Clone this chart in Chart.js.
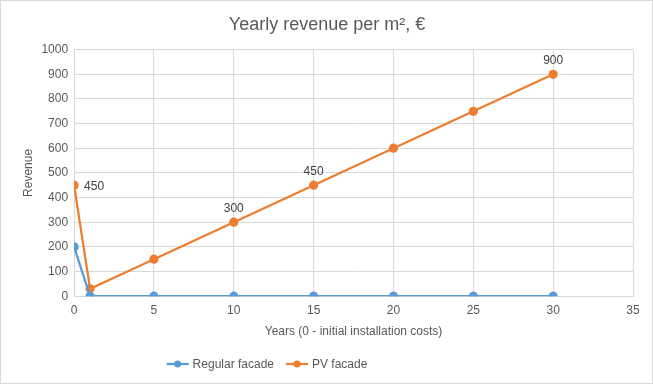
<!DOCTYPE html>
<html>
<head>
<meta charset="utf-8">
<script src="https://cdn.jsdelivr.net/npm/chart.js@4"></script>
<style>
  html, body { margin: 0; padding: 0; background: #fff; }
  #wrap { position: relative; width: 651px; height: 382px; border: 1px solid #d9d9d9; }
</style>
</head>
<body>
<div id="wrap"><canvas id="chart"></canvas></div>
<script>
// Years on the x axis
const years = [0, 1, 5, 10, 15, 20, 25, 30];
const regularFacade = [200, 0, 0, 0, 0, 0, 0, 0];
const pvFacade = [450, 30, 150, 300, 450, 600, 750, 900];
// which PV points carry a value label, and where
const pvLabels = [
  {index: 0, pos: 'right'},
  {index: 3, pos: 'top'},
  {index: 4, pos: 'top'},
  {index: 7, pos: 'top'}
];

const FONT = "'Liberation Sans', 'DejaVu Sans', sans-serif";
const GREY = '#595959';
const BLUE = '#5b9bd5';
const ORANGE = '#ed7d31';

const toPoints = vals => years.map((x, i) => ({x: x, y: vals[i]}));

// draws the few value labels on the PV series
const pointLabels = {
  id: 'pointLabels',
  afterDatasetsDraw(chart) {
    const ctx = chart.ctx;
    const meta = chart.getDatasetMeta(1);
    ctx.save();
    ctx.font = '12px ' + FONT;
    ctx.fillStyle = '#404040';
    pvLabels.forEach(l => {
      const el = meta.data[l.index];
      const txt = String(pvFacade[l.index]);
      if (l.pos === 'right') {
        ctx.textAlign = 'left';
        ctx.textBaseline = 'middle';
        ctx.fillText(txt, el.x + 10, el.y + 1);
      } else {
        ctx.textAlign = 'center';
        ctx.textBaseline = 'bottom';
        ctx.fillText(txt, el.x, el.y - 8);
      }
    });
    ctx.restore();
  }
};

// Excel-like legend (line with marker), a bit left of centre as in the original
const excelLegend = {
  id: 'excelLegend',
  afterDraw(chart) {
    const ctx = chart.ctx;
    const y = chart.height - 19;
    ctx.save();
    ctx.font = '12px ' + FONT;
    ctx.textBaseline = 'middle';
    ctx.textAlign = 'left';
    const items = chart.data.datasets.map(ds => ({
      text: ds.label,
      color: ds.borderColor,
      w: 22 + 4 + ctx.measureText(ds.label).width
    }));
    const gap = 12;
    const total = items.reduce((s, it) => s + it.w, 0) + gap * (items.length - 1);
    let x = 266 - total / 2;
    items.forEach(it => {
      ctx.strokeStyle = it.color;
      ctx.fillStyle = it.color;
      ctx.lineWidth = 2.25;
      ctx.beginPath();
      ctx.moveTo(x, y);
      ctx.lineTo(x + 22, y);
      ctx.stroke();
      ctx.beginPath();
      ctx.arc(x + 11, y, 3.5, 0, Math.PI * 2);
      ctx.fill();
      ctx.fillStyle = GREY;
      ctx.fillText(it.text, x + 26, y + 1);
      x += it.w + gap;
    });
    ctx.restore();
  }
};

new Chart(document.getElementById('chart'), {
  type: 'scatter',
  data: {
    datasets: [
      {
        label: 'Regular facade',
        data: toPoints(regularFacade),
        showLine: true,
        borderColor: BLUE,
        backgroundColor: BLUE,
        borderWidth: 2.25,
        pointRadius: 3.5,
        pointHoverRadius: 3.5
      },
      {
        label: 'PV facade',
        data: toPoints(pvFacade),
        showLine: true,
        borderColor: ORANGE,
        backgroundColor: ORANGE,
        borderWidth: 2.25,
        pointRadius: 3.5,
        pointHoverRadius: 3.5
      }
    ]
  },
  plugins: [pointLabels, excelLegend],
  options: {
    responsive: true,
    maintainAspectRatio: false,
    animation: false,
    devicePixelRatio: 1,
    layout: {padding: {left: 20, right: 19, top: 9, bottom: 44}},
    plugins: {
      title: {
        display: true,
        text: 'Yearly revenue per m², €',
        color: GREY,
        font: {family: FONT, size: 18, weight: 'normal'},
        padding: {top: 4, bottom: 14}
      },
      legend: {display: false},
      tooltip: {enabled: false}
    },
    scales: {
      x: {
        type: 'linear',
        min: 0,
        max: 35,
        ticks: {stepSize: 5, color: GREY, font: {family: FONT, size: 12}, padding: 7},
        grid: {color: '#d9d9d9', drawTicks: false},
        border: {color: '#d9d9d9'},
        title: {
          display: true,
          text: 'Years (0 - initial installation costs)',
          color: GREY,
          font: {family: FONT, size: 12},
          padding: {top: 0, bottom: 0}
        }
      },
      y: {
        min: 0,
        max: 1000,
        ticks: {
          stepSize: 100,
          color: GREY,
          font: {family: FONT, size: 12},
          padding: 6,
          callback: v => String(v)
        },
        grid: {color: '#d9d9d9', drawTicks: false},
        border: {display: false},
        title: {
          display: true,
          text: 'Revenue',
          color: GREY,
          font: {family: FONT, size: 12},
          padding: {top: 0, bottom: 0}
        }
      }
    }
  }
});
</script>
</body>
</html>
